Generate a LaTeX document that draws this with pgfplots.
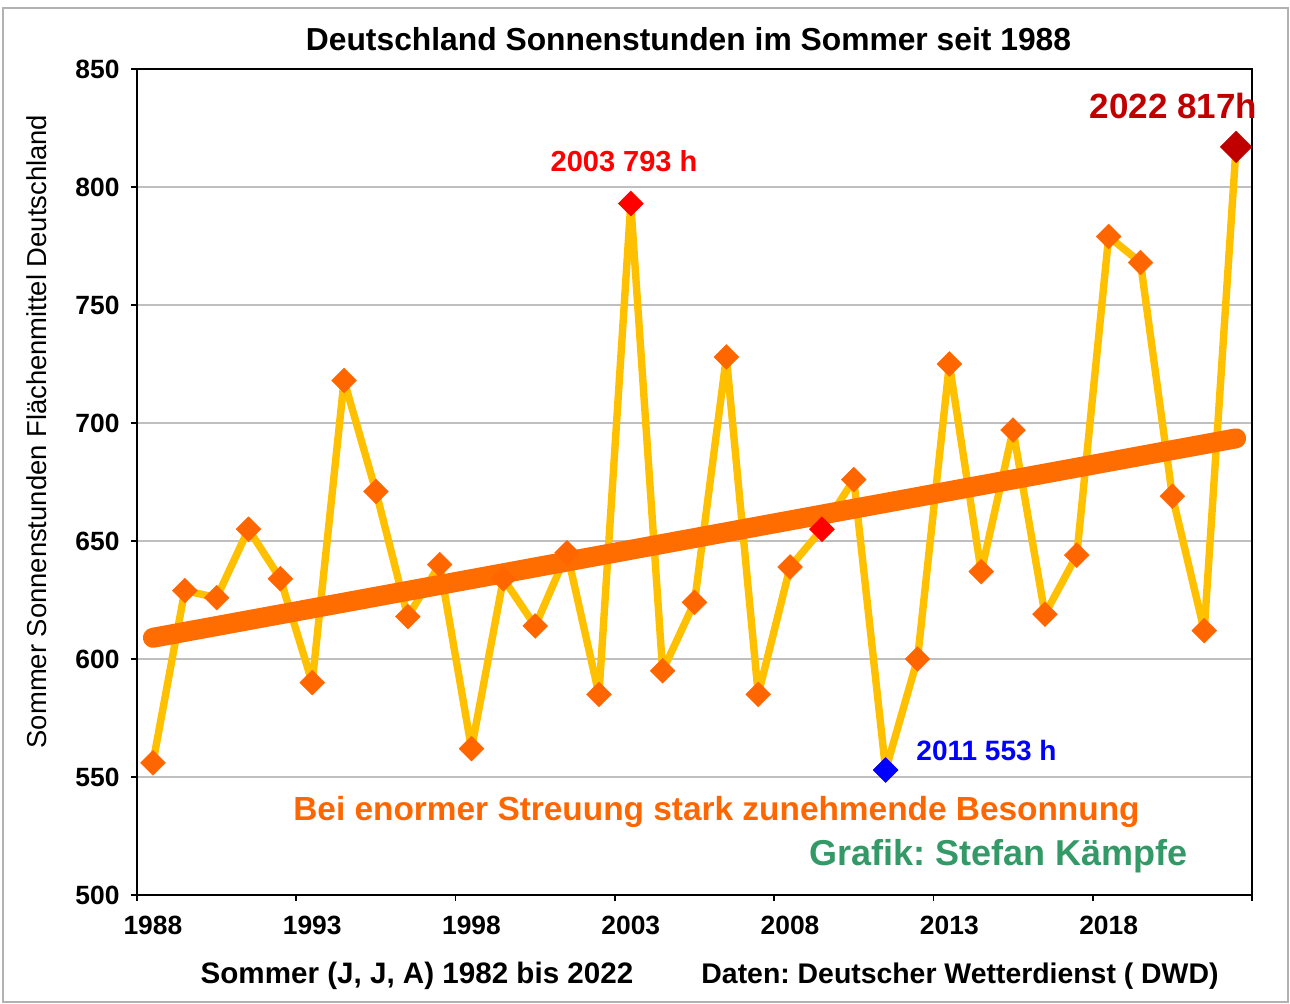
\documentclass[border=0pt]{standalone}
\usepackage{fontspec}
\setmainfont{Liberation Sans}
\usepackage{pgfplots}
\pgfplotsset{compat=1.18}
\definecolor{gold}{HTML}{FFC000}
\definecolor{orng}{HTML}{FF6600}
\definecolor{trend}{HTML}{FF6D00}
\definecolor{dred}{HTML}{C00000}
\definecolor{sgreen}{HTML}{339966}
\definecolor{gridc}{HTML}{BFBFBF}
\begin{document}
\frenchspacing
\begin{tikzpicture}
\path[use as bounding box] (0,0) rectangle (645pt,501.5pt);
\draw[gray!60, line width=1pt] (1.5pt,0.5pt) rectangle (644pt,497.5pt);
\begin{axis}[
  at={(68.5pt,54pt)}, anchor=south west,
  scale only axis, width=557.5pt, height=413pt,
  xmin=1987.5, xmax=2022.5, ymin=500, ymax=850,
  ytick={500,550,...,850},
  xtick={1987.5,1992.5,...,2022.5}, xticklabels={},
  extra x ticks={1988,1993,1998,2003,2008,2013,2018},
  extra x tick labels={1988,1993,1998,2003,2008,2013,2018},
  extra x tick style={major tick length=0pt, grid=none},
  xtick pos=bottom, ytick pos=left,
  tick align=outside, major tick length=3pt,
  ymajorgrids, grid style={gridc, line width=0.6pt},
  axis line style={black, line width=0.8pt},
  tick style={black, line width=0.8pt},
  ticklabel style={font=\bfseries\fontsize{13.2}{15}\selectfont},
  yticklabel style={xshift=-2.2pt},
  xticklabel style={yshift=-7pt},
  /pgf/number format/assume math mode=true,
  /pgf/number format/1000 sep={},
  clip=false,
]
\addplot[gold, line width=3.7pt, line join=round, mark=square*, mark size=4.4pt,
  mark options={rotate=45, fill=orng, draw=orng, line width=0.2pt, solid}] coordinates {
(1988,556) (1989,629) (1990,626) (1991,655) (1992,634) (1993,590) (1994,718)
(1995,671) (1996,618) (1997,640) (1998,562) (1999,634) (2000,614) (2001,645)
(2002,585) (2003,793) (2004,595) (2005,624) (2006,728) (2007,585) (2008,639)
(2009,655) (2010,676) (2011,553) (2012,600) (2013,725) (2014,637) (2015,697)
(2016,619) (2017,644) (2018,779) (2019,768) (2020,669) (2021,612) (2022,817)
};
\addplot[only marks, mark=square*, mark size=4.4pt,
  mark options={rotate=45, fill=red, draw=red, line width=0.2pt}] coordinates {(2003,793) (2009,655)};
\addplot[only marks, mark=square*, mark size=4.4pt,
  mark options={rotate=45, fill=blue, draw=blue, line width=0.2pt}] coordinates {(2011,553)};
\addplot[only marks, mark=square*, mark size=5.6pt,
  mark options={rotate=45, fill=dred, draw=dred, line width=0.2pt}] coordinates {(2022,817)};
\addplot[trend, line width=10pt, line cap=round] coordinates {(1988,609) (2022,693.5)};
\end{axis}
\node[font=\bfseries\fontsize{15.9}{18}\selectfont] at (344.25pt,482pt) {Deutschland Sonnenstunden im Sommer seit 1988};
\node[font=\bfseries\fontsize{14.8}{17}\selectfont] at (208.5pt,13.5pt) {Sommer (J, J, A) 1982 bis 2022};
\node[font=\bfseries\fontsize{14.2}{17}\selectfont] at (480pt,13.5pt) {Daten: Deutscher Wetterdienst ( DWD)};
\node[font=\bfseries\fontsize{16.7}{19}\selectfont, text=orng] at (358.25pt,95.5pt) {Bei enormer Streuung stark zunehmende Besonnung};
\node[font=\bfseries\fontsize{18}{21}\selectfont, text=sgreen] at (499.25pt,73.5pt) {Grafik: Stefan Kämpfe};
\node[font=\bfseries\fontsize{14.5}{17}\selectfont, text=red] at (312pt,421pt) {2003 793 h};
\node[font=\bfseries\fontsize{17.5}{20}\selectfont, text=dred] at (586.75pt,448.5pt) {2022 817h};
\node[font=\bfseries\fontsize{14}{16}\selectfont, text=blue] at (493.25pt,126pt) {2011 553 h};
\node[font=\fontsize{13.7}{16}\selectfont, rotate=90] at (18.5pt,285.75pt) {Sommer Sonnenstunden Flächenmittel Deutschland};
\end{tikzpicture}
\end{document}
